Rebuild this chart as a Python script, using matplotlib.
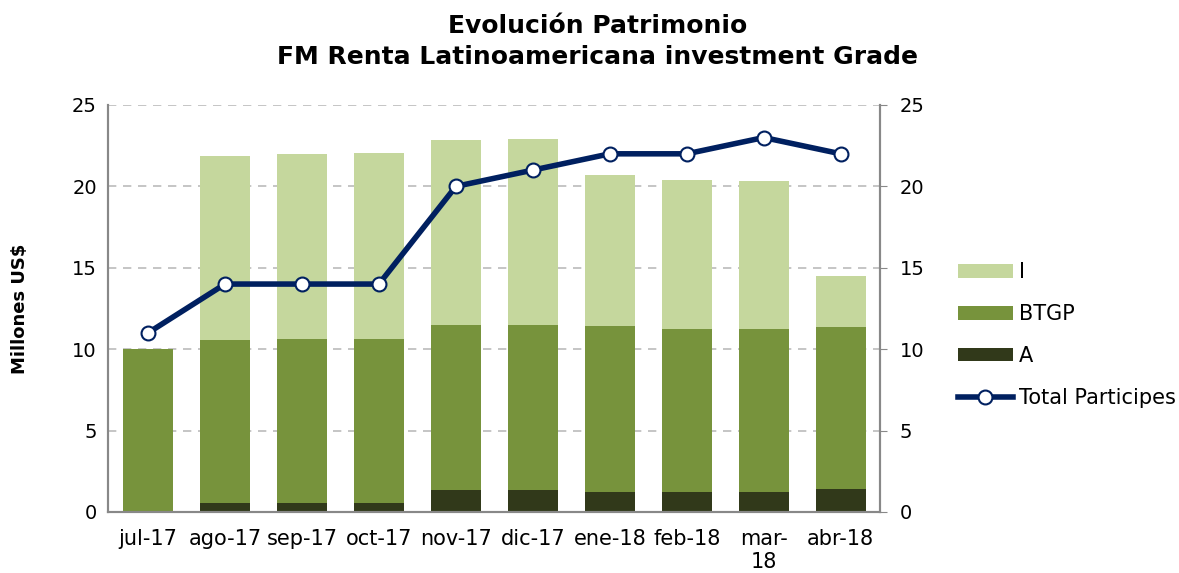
import numpy as np
import matplotlib.pyplot as plt
from matplotlib import font_manager

# data (cumulative tops of each stacked segment)
months = ['jul-17', 'ago-17', 'sep-17', 'oct-17', 'nov-17', 'dic-17',
          'ene-18', 'feb-18', 'mar-\n18', 'abr-18']
serie_a = [0.0, 0.55, 0.55, 0.55, 1.35, 1.35, 1.2, 1.2, 1.25, 1.4]
top_btgp = [10.0, 10.57, 10.63, 10.63, 11.49, 11.5, 11.4, 11.24, 11.24, 11.36]
top_total = [10.0, 21.87, 22.0, 22.05, 22.85, 22.9, 20.7, 20.4, 20.36, 14.5]
participes = [11, 14, 14, 14, 20, 21, 22, 22, 23, 22]

serie_btgp = [b - a for a, b in zip(serie_a, top_btgp)]
serie_i = [t - b for b, t in zip(top_btgp, top_total)]

c_i = '#C5D79D'
c_btgp = '#77933C'
c_a = '#31391A'
c_line = '#002060'

names = {f.name for f in font_manager.fontManager.ttflist}
narrow = 'Liberation Sans Narrow' if 'Liberation Sans Narrow' in names else 'DejaVu Sans'

fig = plt.figure(figsize=(11.79, 5.73), dpi=100)
ax = fig.add_axes([0.0916, 0.1065, 0.6548, 0.7103])
x = np.arange(len(months))
w = 0.65

ax.bar(x, serie_a, w, color=c_a, label='A', zorder=2)
ax.bar(x, serie_btgp, w, bottom=serie_a, color=c_btgp, label='BTGP', zorder=2)
ax.bar(x, serie_i, w, bottom=top_btgp, color=c_i, label='I', zorder=2)

ax.set_ylim(0, 25)
ax.set_xlim(-0.52, 9.51)
ax.set_yticks(range(0, 26, 5))
ax.yaxis.grid(True, linestyle=(0, (5, 4)), color='#BBBBBB', linewidth=1.2, zorder=0)
ax.set_axisbelow(True)
ax.set_xticks(x)
ax.set_xticklabels(months, fontsize=15, family=narrow)
ax.tick_params(axis='x', length=0, pad=12)
ax.tick_params(axis='y', length=0, labelsize=14, pad=8)
ax.spines['top'].set_visible(False)
for s in ['left', 'bottom', 'right']:
    ax.spines[s].set_color('#888888')
    ax.spines[s].set_linewidth(1.5)
ax.set_ylabel('Millones US$', fontsize=13, fontweight='bold', labelpad=31)

ax2 = ax.twinx()
ax2.plot(x, participes, color=c_line, linewidth=4, marker='o', markersize=10,
         markerfacecolor='white', markeredgecolor=c_line, markeredgewidth=1.5,
         label='Total Participes', zorder=5)
ax2.set_ylim(0, 25)
ax2.set_yticks(range(0, 26, 5))
ax2.tick_params(axis='y', length=5, color='#888888', labelsize=14, pad=9)
ax2.spines['top'].set_visible(False)
for s in ['left', 'bottom', 'right']:
    ax2.spines[s].set_color('#888888')
    ax2.spines[s].set_linewidth(1.5)

fig.suptitle('Evolución Patrimonio\nFM Renta Latinoamericana investment Grade',
             fontsize=18, fontweight='bold', x=0.507, y=0.976, linespacing=1.4)

h1, l1 = ax.get_legend_handles_labels()
h2, l2 = ax2.get_legend_handles_labels()
handles = [h1[2], h1[1], h1[0], h2[0]]
labels = [l1[2], l1[1], l1[0], l2[0]]
fig.legend(handles, labels, loc='center left', bbox_to_anchor=(0.797, 0.415),
           frameon=False, fontsize=15, handlelength=2.6, handleheight=0.6,
           labelspacing=1.05, handletextpad=0.3)

fig.savefig('out.png', dpi=100)
